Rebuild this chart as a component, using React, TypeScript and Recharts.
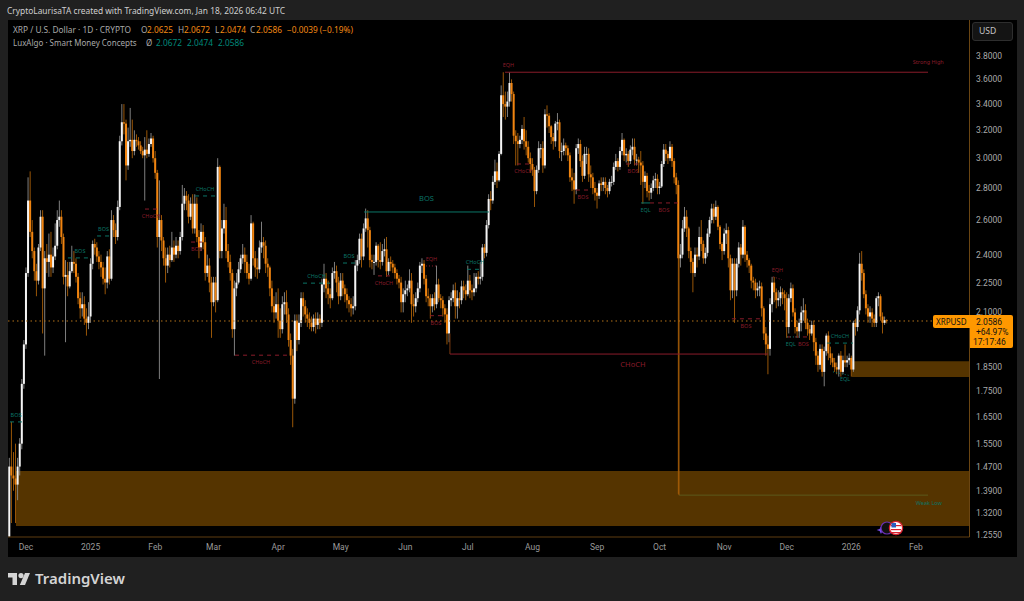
import React from 'react';
import { ComposedChart, Bar, XAxis, YAxis, ReferenceLine, ReferenceArea, ReferenceDot } from 'recharts';

const firstOpen = 1.25;
const closes = [
1.47,1.44,1.43,1.41,1.47,1.55,1.78,1.95,2.30,2.72,
2.53,2.42,2.31,2.26,2.44,2.62,2.22,2.38,2.36,2.40,
2.33,2.39,2.45,2.60,2.62,2.50,2.28,2.29,2.23,2.31,
2.36,2.35,2.28,2.17,2.12,2.14,2.07,2.05,2.08,2.35,
2.46,2.44,2.39,2.36,2.33,2.27,2.25,2.39,2.27,2.60,
2.54,2.50,2.68,3.12,3.26,3.25,2.95,3.12,3.13,3.05,
3.13,3.12,3.09,3.05,3.02,3.06,3.03,3.10,3.14,3.00,
2.90,2.50,2.60,2.48,2.38,2.34,2.40,2.37,2.44,2.40,
2.45,2.42,2.50,2.70,2.75,2.72,2.62,2.70,2.55,2.70,
2.50,2.44,2.53,2.47,2.30,2.34,2.25,2.15,2.25,2.16,
2.94,2.42,2.55,2.60,2.42,2.36,2.30,2.02,2.22,2.25,
2.32,2.38,2.40,2.36,2.30,2.27,2.58,2.38,2.33,2.32,
2.44,2.47,2.45,2.35,2.33,2.22,2.13,2.10,2.14,2.06,
2.02,2.14,2.15,2.09,1.97,1.90,1.72,2.06,1.97,2.05,
2.17,2.13,2.09,2.07,2.05,2.03,2.07,2.04,2.07,2.05,
2.24,2.27,2.22,2.19,2.17,2.30,2.31,2.25,2.18,2.26,
2.22,2.19,2.16,2.14,2.12,2.13,2.34,2.37,2.49,2.39,
2.55,2.61,2.54,2.37,2.36,2.36,2.45,2.37,2.36,2.42,
2.43,2.31,2.36,2.35,2.33,2.30,2.27,2.25,2.15,2.19,
2.21,2.22,2.26,2.14,2.13,2.17,2.22,2.34,2.35,2.27,
2.18,2.17,2.13,2.17,2.14,2.24,2.17,2.16,2.12,2.09,
2.00,2.16,2.17,2.21,2.13,2.17,2.16,2.23,2.21,2.19,
2.26,2.21,2.20,2.22,2.28,2.27,2.28,2.44,2.41,2.57,
2.73,2.72,2.84,2.91,2.85,3.03,3.47,3.40,3.38,3.42,
3.57,3.48,3.16,3.12,3.10,3.13,3.21,3.12,3.08,3.00,
2.96,2.92,2.78,2.92,3.07,3.07,2.95,3.32,3.31,3.23,
3.15,3.12,3.25,3.26,3.05,3.05,3.09,3.07,3.02,2.87,
2.85,2.79,3.07,3.10,2.98,2.88,3.03,3.03,2.89,2.87,
2.80,2.77,2.75,2.83,2.82,2.84,2.80,2.78,2.84,2.84,
2.94,2.98,2.94,3.05,3.13,3.02,3.03,2.98,3.06,3.08,
2.99,2.99,2.97,2.95,2.84,2.88,2.78,2.77,2.80,2.85,
2.86,2.80,2.81,2.96,3.06,3.03,3.00,3.08,2.98,2.87,
2.82,2.38,2.40,2.55,2.62,2.55,2.42,2.36,2.30,2.40,
2.39,2.50,2.46,2.38,2.41,2.52,2.60,2.67,2.62,2.68,
2.56,2.46,2.42,2.52,2.54,2.38,2.21,2.35,2.21,2.35,
2.44,2.40,2.56,2.40,2.37,2.34,2.26,2.25,2.21,2.22,
2.23,2.12,2.00,1.95,1.93,2.14,2.25,2.20,2.16,2.17,
2.20,2.19,2.17,2.03,2.17,2.22,2.10,2.03,2.01,2.05,
2.10,2.11,2.05,2.02,2.00,2.04,1.96,1.90,1.86,1.93,
1.83,1.92,1.99,1.91,1.89,1.87,1.85,1.84,1.90,1.83,
1.88,1.87,1.88,1.89,1.84,2.05,2.03,2.11,2.35,2.30,
2.19,2.12,2.08,2.10,2.07,2.05,2.17,2.18,2.08,2.05,2.0625,2.0586,
];
const highs = [
1.50,1.63,1.52,1.55,1.50,1.57,1.80,1.97,2.33,2.87,
2.91,2.60,2.44,2.35,2.46,2.66,2.66,2.42,2.46,2.52,
2.53,2.44,2.58,2.66,2.72,2.66,2.52,2.37,2.36,2.36,
2.45,2.42,2.38,2.30,2.20,2.20,2.18,2.12,2.15,2.38,
2.48,2.49,2.47,2.42,2.40,2.36,2.33,2.42,2.43,2.66,
2.63,2.58,2.72,3.16,3.40,3.40,3.28,3.22,3.37,3.28,
3.20,3.17,3.15,3.12,3.08,3.15,3.20,3.14,3.18,3.16,
3.05,2.92,2.85,2.63,2.50,2.44,2.44,2.45,2.53,2.48,
2.50,2.48,2.53,2.82,2.80,2.78,2.76,2.74,2.76,2.76,
2.74,2.54,2.58,2.57,2.50,2.40,2.38,2.28,2.28,2.28,
3.00,2.95,2.60,2.70,2.68,2.46,2.40,2.32,2.26,2.30,
2.36,2.40,2.46,2.44,2.40,2.35,2.63,2.59,2.42,2.38,
2.48,2.59,2.50,2.48,2.38,2.34,2.26,2.18,2.20,2.22,
2.12,2.18,2.20,2.21,2.12,2.00,1.93,2.09,2.09,2.09,
2.20,2.20,2.16,2.12,2.10,2.08,2.09,2.10,2.10,2.09,
2.27,2.35,2.30,2.26,2.22,2.33,2.36,2.34,2.28,2.30,
2.30,2.24,2.22,2.18,2.17,2.18,2.37,2.40,2.52,2.52,
2.58,2.67,2.66,2.56,2.40,2.40,2.47,2.46,2.47,2.46,
2.49,2.50,2.38,2.39,2.37,2.35,2.32,2.29,2.28,2.22,
2.26,2.24,2.32,2.30,2.19,2.20,2.25,2.36,2.38,2.37,
2.29,2.22,2.19,2.19,2.20,2.34,2.27,2.19,2.18,2.14,
2.12,2.18,2.20,2.24,2.25,2.21,2.20,2.26,2.26,2.24,
2.34,2.29,2.24,2.30,2.30,2.31,2.36,2.46,2.46,2.60,
2.76,2.78,2.88,2.99,2.97,3.05,3.55,3.66,3.50,3.50,
3.66,3.60,3.50,3.20,3.18,3.16,3.24,3.30,3.20,3.12,
3.04,3.00,2.94,2.95,3.12,3.10,3.12,3.36,3.39,3.33,
3.24,3.18,3.27,3.33,3.28,3.11,3.14,3.11,3.09,3.04,
2.93,2.90,3.10,3.14,3.13,3.02,3.08,3.08,3.07,2.95,
2.90,2.84,2.80,2.85,2.87,2.87,2.87,2.82,2.86,2.88,
2.97,3.03,3.00,3.08,3.18,3.14,3.07,3.05,3.09,3.14,
3.14,3.03,3.01,3.05,2.98,2.91,2.90,2.82,2.83,2.88,
2.90,2.89,2.84,2.98,3.10,3.10,3.05,3.12,3.10,3.00,
2.90,2.85,2.46,2.60,2.68,2.66,2.56,2.44,2.38,2.44,
2.44,2.56,2.60,2.48,2.44,2.55,2.62,2.70,2.70,2.72,
2.69,2.57,2.47,2.55,2.58,2.56,2.40,2.38,2.38,2.38,
2.47,2.46,2.60,2.57,2.42,2.38,2.35,2.28,2.27,2.25,
2.26,2.25,2.13,2.03,1.99,2.17,2.28,2.28,2.22,2.21,
2.23,2.22,2.21,2.20,2.19,2.25,2.24,2.12,2.06,2.07,
2.13,2.17,2.14,2.07,2.04,2.06,2.06,1.98,1.92,1.95,
1.95,1.94,2.00,2.01,1.94,1.91,1.89,1.87,1.91,1.92,
1.90,1.95,1.90,1.91,1.90,2.06,2.07,2.13,2.41,2.42,
2.32,2.21,2.14,2.13,2.12,2.09,2.18,2.20,2.19,2.10,2.08,2.0672,
];
const lows = [
1.25,1.29,1.39,1.29,1.36,1.44,1.53,1.76,1.93,2.28,
2.50,2.38,2.26,2.18,2.24,2.42,2.00,1.90,2.30,2.28,
2.28,2.30,2.37,2.43,2.56,2.46,2.24,1.96,2.18,2.22,
2.30,2.30,2.25,2.14,2.07,2.08,2.04,1.99,2.02,2.05,
2.32,2.40,2.36,2.32,2.28,2.24,2.19,2.22,2.24,2.26,
2.50,2.46,2.48,2.66,3.09,3.17,2.85,2.92,3.08,3.00,
3.02,3.08,3.06,3.03,3.00,2.72,3.00,3.01,3.08,2.97,
2.86,2.44,1.80,2.42,2.34,2.25,2.30,2.33,2.36,2.36,
2.38,2.38,2.40,2.48,2.66,2.66,2.58,2.60,2.52,2.52,
2.47,2.38,2.42,2.43,2.26,2.28,2.20,1.98,2.13,2.10,
2.15,2.38,2.38,2.52,2.38,2.33,2.26,1.98,1.90,2.18,
2.24,2.30,2.35,2.30,2.27,2.24,2.26,2.34,2.28,2.27,
2.30,2.41,2.38,2.30,2.28,2.18,2.10,2.05,2.07,1.98,
1.98,2.00,2.09,2.05,1.94,1.86,1.61,1.70,1.92,1.95,
2.03,2.08,2.05,2.03,2.02,2.01,2.01,2.00,2.02,2.02,
2.03,2.20,2.17,2.14,2.12,2.16,2.27,2.20,2.14,2.16,
2.18,2.15,2.12,2.10,2.08,2.09,2.11,2.31,2.35,2.33,
2.37,2.53,2.44,2.33,2.32,2.29,2.34,2.33,2.32,2.34,
2.39,2.28,2.29,2.31,2.30,2.27,2.24,2.22,2.10,2.10,
2.15,2.18,2.20,2.05,2.08,2.10,2.15,2.20,2.30,2.24,
2.15,2.13,2.07,2.10,2.11,2.12,2.15,2.12,2.08,2.05,
1.95,1.96,2.13,2.15,2.07,2.07,2.12,2.14,2.17,2.16,
2.18,2.17,2.16,2.18,2.20,2.24,2.24,2.26,2.38,2.39,
2.55,2.66,2.70,2.82,2.80,2.84,3.02,3.30,3.28,3.30,
3.38,3.42,3.10,2.95,2.95,3.07,3.10,3.06,3.02,2.97,
2.90,2.88,2.68,2.76,2.90,3.00,2.90,2.93,3.22,3.18,
3.10,3.06,3.08,3.20,3.00,2.98,3.02,3.02,2.98,2.84,
2.78,2.70,2.76,3.03,2.94,2.84,2.86,2.96,2.84,2.80,
2.76,2.72,2.67,2.73,2.78,2.78,2.76,2.74,2.76,2.81,
2.82,2.92,2.91,2.92,3.02,2.98,2.97,2.94,2.96,3.02,
2.95,2.95,2.90,2.82,2.70,2.80,2.74,2.72,2.73,2.78,
2.80,2.76,2.76,2.80,2.94,2.98,2.96,2.98,2.94,2.83,
2.76,1.38,2.33,2.38,2.53,2.50,2.38,2.30,2.20,2.28,
2.33,2.37,2.42,2.35,2.35,2.39,2.50,2.58,2.58,2.60,
2.54,2.43,2.37,2.40,2.46,2.33,2.16,2.17,2.05,2.18,
2.33,2.34,2.38,2.36,2.33,2.30,2.22,2.21,2.17,2.18,
2.18,2.08,1.97,1.90,1.82,1.90,2.10,2.15,2.12,2.13,
2.13,2.14,2.11,1.98,2.00,2.15,2.08,2.00,1.98,1.98,
2.01,2.06,2.02,1.99,1.97,1.99,1.92,1.86,1.83,1.84,
1.81,1.77,1.90,1.88,1.86,1.85,1.83,1.82,1.81,1.81,
1.82,1.85,1.85,1.86,1.81,1.83,1.99,2.01,2.09,2.26,
2.17,2.09,2.05,2.05,2.03,2.03,2.03,2.13,2.06,2.00,2.04,2.0474,
];

const priceTicks = [3.8,3.6,3.4,3.2,3.0,2.8,2.6,2.4,2.25,2.1,1.85,1.75,1.65,1.55,1.47,1.39,1.32,1.255];
const priceLabels = ['3.8000','3.6000','3.4000','3.2000','3.0000','2.8000','2.6000','2.4000','2.2500','2.1000','1.8500','1.7500','1.6500','1.5500','1.4700','1.3900','1.3200','1.2550'];
const timeTicks = [8,39,70,98,129,159,190,220,251,282,312,343,373,404,435];
const timeLabels = ['Dec','2025','Feb','Mar','Apr','May','Jun','Jul','Aug','Sep','Oct','Nov','Dec','2026','Feb'];

const RED = '#8a1c2a';
const TEAL = '#0b7567';
const structure = [
  { text:'BOS', c:TEAL, a:0.32, b:6.1, p:1.63, side:-1, dash:'4 4' },
  { text:'BOS', c:TEAL, a:28.1, b:39.7, p:2.382, side:-1, dash:'4 4' },
  { text:'BOS', c:TEAL, a:42.1, b:48.3, p:2.506, side:-1, dash:'4 4' },
  { text:'CHoCH', c:RED, a:65.1, b:70.9, p:2.667, side:1, dash:'4 4' },
  { text:'CHoCH', c:TEAL, a:89.1, b:98.7, p:2.749, side:-1, dash:'4 4' },
  { text:'BOS', c:RED, a:87.2, b:92.4, p:2.471, side:1, dash:'4 4' },
  { text:'CHoCH', c:RED, a:108.3, b:133.2, p:1.902, side:1, dash:'4 4' },
  { text:'CHoCH', c:TEAL, a:140.9, b:153.9, p:2.247, side:-1, dash:'4 4' },
  { text:'BOS', c:TEAL, a:160.1, b:165.9, p:2.354, side:-1, dash:'4 4' },
  { text:'BOS', c:TEAL, a:170.2, b:230.1, p:2.649, side:-1, big:1, gap:13 },
  { text:'EQH', c:RED, a:199.9, b:205.2, p:2.338, side:-1, dash:'1 2' },
  { text:'CHoCH', c:RED, a:176.9, b:182.6, p:2.285, side:1, dash:'4 4' },
  { text:'BOS', c:RED, a:201.8, b:207.6, p:2.084, side:1, dash:'4 4' },
  { text:'CHoCH', c:TEAL, a:219.6, b:227.3, p:2.32, side:-1, dash:'4 4' },
  { text:'EQH', c:RED, a:237.8, b:440.8, p:3.66, side:-1, at:239.5 },
  { text:'CHoCH', c:RED, a:243.6, b:249.8, p:2.96, side:1, dash:'4 4' },
  { text:'BOS', c:RED, a:271.9, b:278.6, p:2.787, side:1, dash:'4 4' },
  { text:'BOS', c:RED, a:295.9, b:302.6, p:2.96, side:1, dash:'4 4' },
  { text:'EQL', c:TEAL, a:303.1, b:307.4, p:2.705, side:1 },
  { text:'BOS', c:RED, a:307.4, b:320.8, p:2.705, side:1, dash:'4 4' },
  { text:'CHoCH', c:RED, a:211.4, b:364, p:1.907, side:1, at:299.2, big:1 },
  { text:'BOS', c:RED, a:346.7, b:360.2, p:2.069, side:1, dash:'4 4' },
  { text:'EQH', c:RED, a:366.4, b:370.7, p:2.28, p2:2.265, side:-1, dash:'1 2' },
  { text:'BOS', c:RED, a:373.1, b:383.2, p:1.984, side:1, at:381, dash:'4 4' },
  { text:'EQL', c:TEAL, a:373.1, b:380, p:1.984, side:1, at:375, dash:'1 2' },
  { text:'CHoCH', c:TEAL, a:392.3, b:404.8, p:1.956, side:-1, dash:'4 4' },
  { text:'EQL', c:TEAL, a:395.2, b:403.4, p:1.83, p2:1.814, side:1, dash:'1 2', at:401 },
];

const rows = closes.map((close, i) => {
  const open = i === 0 ? firstOpen : closes[i - 1];
  return {
    i, open, close,
    high: Math.max(highs[i], open, close),
    low: Math.min(lows[i], open, close),
  };
});

const Candle = (p: any) => {
  const { x, y, width, height, payload } = p;
  const top = Math.min(y, y + height);
  const h = Math.abs(height);
  const cx = x + width / 2;
  const span = Math.log(payload.high) - Math.log(payload.low) || 1;
  const at = (v: number) => top + (h * (Math.log(payload.high) - Math.log(v))) / span;
  const up = payload.close >= payload.open;
  const a = at(Math.max(payload.open, payload.close));
  const b = at(Math.min(payload.open, payload.close));
  return (
    <g>
      <rect x={cx - 0.45} y={top} width={0.9} height={h} fill={up ? '#8c8c8c' : '#a95f08'} />
      <rect x={cx - 1} y={a} width={2} height={Math.max(b - a, 1)} fill={up ? '#f4f4f4' : '#f08410'} />
    </g>
  );
};

const Tag = (p: any) => {
  const { cx, cy, text, c, side, big, gap } = p;
  const size = big ? 7.5 : 5.5;
  const d = gap ?? (big ? 11 : 7);
  return (
    <text x={cx} y={cy + side * d + 2} textAnchor="middle" fontSize={size} fill={c} fontFamily="Noto Sans">{text}</text>
  );
};

const T = ({ x, y, c, s = 9, w, children, ls, f }: any) => (
  <div style={{ position: 'absolute', left: x, top: y, color: c, fontSize: s, fontWeight: w, letterSpacing: ls, lineHeight: 1, whiteSpace: 'nowrap', fontFamily: f ?? '"Noto Sans", sans-serif' }}>{children}</div>
);

const ORANGE = '#f28a14';
const GREY = '#a9a9a9';
const TV = '#00897b';

export default function App() {
  return (
    <div style={{ position: 'absolute', left: 0, top: 0, width: 1024, height: 601, background: '#202020', overflow: 'hidden' }}>
      <T x={7} y={6.5} c="#cfcfcf" s={8.4}>CryptoLaurisaTA created with TradingView.com, Jan 18, 2026 06:42 UTC</T>
      <div style={{ position: 'absolute', left: 8, top: 20, width: 1009, height: 537, background: '#000' }}>
        <ComposedChart width={1009} height={537} data={rows} margin={{ top: 0, right: 0, bottom: 0, left: 0 }}>
          <XAxis
            dataKey="i" type="number" domain={[-0.64, 460.7]} allowDataOverflow
            ticks={timeTicks} interval={0} height={20} tickLine={false} tickSize={0} tickMargin={7}
            axisLine={{ stroke: '#5e3c10' }}
            tick={{ fill: '#9a9a9a', fontSize: 8.5, fontFamily: 'Roboto' }}
            tickFormatter={(v: number) => timeLabels[timeTicks.indexOf(v)]}
          />
          <YAxis
            orientation="right" scale="log" type="number" domain={[1.249, 4.13]} allowDataOverflow
            ticks={priceTicks} interval={0} width={47.5} tickLine={false} tickSize={0} tickMargin={6.5}
            axisLine={{ stroke: '#6a4512' }}
            tick={{ fill: '#a9a9a9', fontSize: 8.5, fontFamily: 'Roboto' }}
            tickFormatter={(v: number) => priceLabels[priceTicks.indexOf(v)]}
          />
          <ReferenceArea x1={3.2} x2={460.7} y1={1.281} y2={1.455} fill="#553400" fillOpacity={1} stroke="none" />
          <ReferenceArea x1={404.3} x2={460.7} y1={1.808} y2={1.876} fill="#553400" fillOpacity={1} stroke="none" />
          <ReferenceLine segment={[{ x: -0.64, y: 2.0586 }, { x: 443.2, y: 2.0586 }]} stroke="#b5731a" strokeDasharray="1.5 3" />
          <ReferenceLine segment={[{ x: 321.3, y: 1.376 }, { x: 440.8, y: 1.376 }]} stroke="#5c5a1c" />
          <ReferenceLine segment={[{ x: 321.3, y: 1.376 }, { x: 321.3, y: 2.4 }]} stroke="#a95f08" />
          <ReferenceLine segment={[{ x: 211.4, y: 1.907 }, { x: 211.4, y: 2.0 }]} stroke="#7a3a10" />
          {structure.map((m, k) => (
            <ReferenceLine key={k} segment={[{ x: m.a, y: m.p }, { x: m.b, y: m.p2 ?? m.p }]} stroke={m.c} strokeDasharray={m.dash} />
          ))}
          <Bar dataKey={(d: any) => [d.low, d.high]} barSize={2} shape={Candle} isAnimationActive={false} />
          {structure.map((m, k) => (
            <ReferenceDot key={k} x={m.at ?? (m.a + m.b) / 2} y={m.p} r={0} shape={(p: any) => <Tag {...p} text={m.text} c={m.c} side={m.side} big={m.big} gap={m.gap} />} />
          ))}
          <ReferenceDot x={440.9} y={3.66} r={0} shape={(p: any) => <Tag {...p} text="Strong High" c={RED} side={-1} gap={10} />} />
          <ReferenceDot x={441.2} y={1.376} r={0} shape={(p: any) => <Tag {...p} text="Weak Low" c={TEAL} side={1} gap={8} />} />
        </ComposedChart>
      </div>

      <T x={13} y={26} c={GREY} s={8.3}>XRP / U.S. Dollar · 1D · CRYPTO</T>
      <T x={141} y={26} c={GREY} s={8.3}>O</T><T x={147} y={26} c={ORANGE} s={8.3}>2.0625</T>
      <T x={178} y={26} c={GREY} s={8.3}>H</T><T x={184} y={26} c={ORANGE} s={8.3}>2.0672</T>
      <T x={215} y={26} c={GREY} s={8.3}>L</T><T x={220} y={26} c={ORANGE} s={8.3}>2.0474</T>
      <T x={250} y={26} c={GREY} s={8.3}>C</T><T x={256} y={26} c={ORANGE} s={8.3}>2.0586</T>
      <T x={287} y={26} c={ORANGE} s={8.3}>−0.0039 (−0.19%)</T>
      <T x={13} y={39} c={GREY} s={8}>LuxAlgo · Smart Money Concepts</T>
      <T x={146} y={39} c={GREY} s={8}>Ø</T>
      <T x={156} y={39} c={TV} s={8.3}>2.0672</T>
      <T x={187} y={39} c={TV} s={8.3}>2.0474</T>
      <T x={218} y={39} c={TV} s={8.3}>2.0586</T>

      <div style={{ position: 'absolute', left: 972, top: 22, width: 41, height: 19, boxSizing: 'border-box', background: '#141414', border: '1px solid #2e2e2e', borderRadius: 3 }} />
      <T x={979} y={27} c="#c4c4c4" s={8.6}>USD</T>

      <div style={{ position: 'absolute', left: 933, top: 315, width: 37, height: 13, background: '#ff9800', borderRadius: '2px 0 0 2px' }} />
      <T x={936} y={317.5} c="#111" s={8}>XRPUSD</T>
      <div style={{ position: 'absolute', left: 970, top: 315, width: 43, height: 33, background: '#ff9800', borderRadius: '0 2px 2px 0' }} />
      <T x={976} y={318} c="#111" s={8.5} f="Roboto">2.0586</T>
      <T x={976} y={328} c="#111" s={8.5} f="Roboto">+64.97%</T>
      <T x={973} y={338} c="#111" s={8.5} f="Roboto">17:17:46</T>

      <svg style={{ position: 'absolute', left: 876, top: 518 }} width={32} height={20}>
        <path d="M4 8 L5.4 11 L8.4 12 L5.4 13 L4 16 L2.6 13 L-0.4 12 L2.6 11 Z" fill="#7a4df0" transform="translate(1 0)" />
        <circle cx={11} cy={10} r={6} fill="#111" stroke="#6a2fb0" strokeWidth={1.2} />
        <circle cx={20} cy={10} r={6.6} fill="#fff" stroke="#d8202c" strokeWidth={1.3} />
        <rect x={15} y={7} width={10} height={1.2} fill="#d8202c" />
        <rect x={15} y={11} width={10} height={1.2} fill="#d8202c" />
        <rect x={15} y={14} width={10} height={1.2} fill="#d8202c" />
        <rect x={15.5} y={5} width={4.5} height={4.5} fill="#2a5fc0" />
      </svg>

      <svg style={{ position: 'absolute', left: 8, top: 573 }} width={24} height={13}>
        <path d="M0 0 H9 V12 H4.5 V4.6 H0 Z" fill="#d4d4d4" />
        <circle cx={13} cy={2.6} r={2.6} fill="#d4d4d4" />
        <path d="M17 0 H22 L17 12 H11.8 Z" fill="#d4d4d4" />
      </svg>
      <T x={35} y={571} c="#d4d4d4" s={15} w={600}>TradingView</T>
    </div>
  );
}
